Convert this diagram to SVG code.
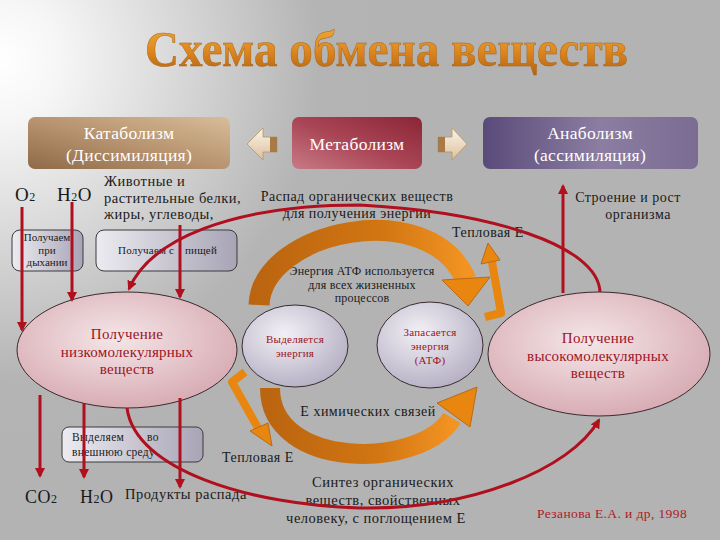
<svg xmlns="http://www.w3.org/2000/svg" width="720" height="540" viewBox="0 0 720 540">
<defs>
<radialGradient id="bg" cx="0" cy="60" r="400" gradientUnits="userSpaceOnUse">
<stop offset="0" stop-color="#ffffff"/><stop offset="0.15" stop-color="#f6f6f6"/><stop offset="0.8" stop-color="#b4b4b4"/><stop offset="1" stop-color="#b3b3b3"/>
</radialGradient>
<linearGradient id="gTitle" x1="0" y1="0" x2="0" y2="1">
<stop offset="0" stop-color="#f2b040"/><stop offset="0.5" stop-color="#e08a20"/><stop offset="1" stop-color="#b06010"/>
</linearGradient>
<linearGradient id="gKat" x1="0" y1="1" x2="1" y2="0">
<stop offset="0" stop-color="#8e6a48"/><stop offset="0.5" stop-color="#b89470"/><stop offset="1" stop-color="#d8bc98"/>
</linearGradient>
<linearGradient id="gMet" x1="0" y1="1" x2="1" y2="0">
<stop offset="0" stop-color="#c87a86"/><stop offset="0.5" stop-color="#a84454"/><stop offset="1" stop-color="#8a2636"/>
</linearGradient>
<linearGradient id="gAna" x1="0" y1="0" x2="1" y2="0">
<stop offset="0" stop-color="#5a4a7a"/><stop offset="0.55" stop-color="#8c7ea2"/><stop offset="1" stop-color="#7a6c92"/>
</linearGradient>
<linearGradient id="gBlk" x1="0" y1="0" x2="0" y2="1">
<stop offset="0" stop-color="#fbf4ea"/><stop offset="1" stop-color="#dcc09c"/>
</linearGradient>
<linearGradient id="gBox" x1="0" y1="0" x2="1" y2="0">
<stop offset="0" stop-color="#ecebf0"/><stop offset="1" stop-color="#a8a4b6"/>
</linearGradient>
<radialGradient id="gPink" cx="0.45" cy="0.4" r="0.65">
<stop offset="0" stop-color="#f4e6e8"/><stop offset="1" stop-color="#d6a8b0"/>
</radialGradient>
<radialGradient id="gLav" cx="0.4" cy="0.35" r="0.7">
<stop offset="0" stop-color="#f2f0f6"/><stop offset="1" stop-color="#b4aec2"/>
</radialGradient>
<linearGradient id="gOr" x1="0" y1="0" x2="1" y2="0">
<stop offset="0" stop-color="#bb6510"/><stop offset="0.6" stop-color="#d27612"/><stop offset="1" stop-color="#f29322"/>
</linearGradient>
<marker id="ar" viewBox="0 0 10 10" refX="8" refY="5" markerWidth="10" markerHeight="10" markerUnits="userSpaceOnUse" orient="auto">
<path d="M0,0 L10,5 L0,10 z" fill="#b00f1e"/>
</marker>
<style>
.t{font-family:"Liberation Serif","Times New Roman",serif;fill:#1a1a1a;letter-spacing:0.5px}
.w{font-family:"Liberation Serif","Times New Roman",serif;fill:#ffffff;letter-spacing:0.3px}
.r{font-family:"Liberation Serif","Times New Roman",serif;fill:#9c1424;letter-spacing:0.25px}
.ln{fill:none;stroke:#b00f1e;stroke-width:3}
.box{stroke:#3a3a3a;stroke-width:1;fill:url(#gBox)}
.ov{stroke:#3a2a30;stroke-width:1}
.or{fill:none;stroke:url(#gOr)}
.orh{fill:#e8860f;stroke:#b86a18;stroke-width:1}
</style>
</defs>
<rect width="720" height="540" fill="url(#bg)"/>
<g id="title">
<text x="145" y="66" font-family="Liberation Serif,serif" font-weight="bold" font-size="50" textLength="483" lengthAdjust="spacingAndGlyphs" fill="url(#gTitle)" stroke="#a86418" stroke-width="0.5">Схема обмена веществ</text>
</g>
<g id="katabolism">
<rect x="28" y="117" width="202" height="52" rx="7" fill="url(#gKat)"/>
<text class="w" font-size="17.5" text-anchor="middle"><tspan x="129" y="139">Катаболизм</tspan><tspan x="129" y="161">(Диссимиляция)</tspan></text>
</g>
<g id="arrow-left">
<polygon points="247,144 263,128 263,137 277,137 277,152 263,152 263,160" fill="url(#gBlk)" stroke="#b89466" stroke-width="0.8"/>
<rect x="270" y="137" width="7" height="15" fill="#a87a48"/>
</g>
<g id="metabolism">
<rect x="292" y="117" width="130" height="52" rx="7" fill="url(#gMet)"/>
<text class="w" x="357" y="150" font-size="17.5" text-anchor="middle">Метаболизм</text>
</g>
<g id="arrow-right">
<polygon points="467,144 452,128 452,137 438,137 438,152 452,152 452,160" fill="url(#gBlk)" stroke="#b89466" stroke-width="0.8"/>
<rect x="438" y="137" width="7" height="15" fill="#a87a48"/>
</g>
<g id="anabolism">
<rect x="483" y="117" width="215" height="52" rx="7" fill="url(#gAna)"/>
<text class="w" font-size="17.5" text-anchor="middle"><tspan x="590" y="139">Анаболизм</tspan><tspan x="590" y="161">(ассимиляция)</tspan></text>
</g>
<g id="inputs">
<text class="t" font-size="19" x="15" y="201">O<tspan font-size="12">2</tspan></text>
<text class="t" font-size="19" x="57" y="201">H<tspan font-size="12">2</tspan>O</text>
<text class="t" font-size="14.5"><tspan x="104" y="186">Животные и</tspan><tspan x="104" y="203">растительные белки,</tspan><tspan x="104" y="219">жиры, углеводы,</tspan></text>
</g>
<g id="box-breath">
<rect class="box" x="12" y="230" width="71" height="41" rx="8"/>
<text class="t" font-size="11" text-anchor="middle" style="letter-spacing:0"><tspan x="47" y="241">Получаем</tspan><tspan x="47" y="254">при</tspan><tspan x="47" y="266">дыхании</tspan></text>
</g>
<g id="box-food">
<rect class="box" x="96" y="230" width="141" height="41" rx="8"/>
<text class="t" font-size="11" style="letter-spacing:0.2px"><tspan x="118" y="254">Получаем с</tspan><tspan x="185" y="254">пищей</tspan></text>
</g>
<g id="label-decay">
<text class="t" font-size="14" text-anchor="middle"><tspan x="357" y="201">Распад органических веществ</tspan><tspan x="357" y="218">для получения энергии</tspan></text>
</g>
<g id="label-growth">
<text class="t" font-size="14" text-anchor="middle"><tspan x="628" y="202">Строение и рост</tspan><tspan x="638" y="219">организма</tspan></text>
</g>
<text class="t" x="452" y="237" font-size="14">Тепловая Е</text>
<text class="t" font-size="12" text-anchor="middle" style="letter-spacing:0.2px"><tspan x="362" y="275">Энергия АТФ используется</tspan><tspan x="362" y="289">для всех жизненных</tspan><tspan x="362" y="302">процессов</tspan></text>
<text class="t" x="368" y="416" font-size="14" text-anchor="middle">Е химических связей</text>
<text class="t" x="222" y="462" font-size="14">Тепловая Е</text>
<g id="oval-low">
<ellipse class="ov" cx="127" cy="350" rx="110" ry="58" fill="url(#gPink)"/>
<text class="r" font-size="15" text-anchor="middle"><tspan x="127" y="339">Получение</tspan><tspan x="127" y="357">низкомолекулярных</tspan><tspan x="127" y="374">веществ</tspan></text>
</g>
<g id="oval-release">
<ellipse class="ov" cx="295" cy="346" rx="53" ry="41" fill="url(#gLav)"/>
<text class="r" font-size="11" text-anchor="middle"><tspan x="295" y="343">Выделяется</tspan><tspan x="295" y="357">энергия</tspan></text>
</g>
<g id="oval-store">
<ellipse class="ov" cx="430" cy="345" rx="53" ry="43" fill="url(#gLav)"/>
<text class="r" font-size="11" text-anchor="middle"><tspan x="430" y="336">Запасается</tspan><tspan x="430" y="350">энергия</tspan><tspan x="430" y="364">(АТФ)</tspan></text>
</g>
<g id="oval-high">
<ellipse class="ov" cx="599" cy="354" rx="111" ry="62" fill="url(#gPink)"/>
<text class="r" font-size="15" text-anchor="middle"><tspan x="598" y="343">Получение</tspan><tspan x="598" y="361">высокомолекулярных</tspan><tspan x="598" y="378">веществ</tspan></text>
</g>
<g id="box-out">
<rect class="box" x="62" y="427" width="141" height="35" rx="7"/>
<text class="t" font-size="11.5" style="letter-spacing:0.3px"><tspan x="72" y="441">Выделяем</tspan><tspan x="147" y="441">во</tspan><tspan x="72" y="456">внешнюю среду</tspan></text>
</g>
<g id="outputs">
<text class="t" font-size="18" x="25" y="503">CO<tspan font-size="12">2</tspan></text>
<text class="t" font-size="18" x="80" y="503">H<tspan font-size="12">2</tspan>O</text>
<text class="t" font-size="14.5" x="125" y="499">Продукты распада</text>
</g>
<g id="label-synth">
<text class="t" font-size="14.5" text-anchor="middle"><tspan x="383" y="487">Синтез органических</tspan><tspan x="383" y="505">веществ, свойственных</tspan><tspan x="376" y="523">человеку, с поглощением Е</tspan></text>
</g>
<text x="537" y="518" font-size="13.5" font-family="Liberation Serif,serif" fill="#b01828" style="letter-spacing:0.4px">Резанова Е.А. и др, 1998</text>
<g id="energy-arrows">
<path class="or" d="M259,305 C262,230 430,195 466,280" stroke-width="21"/>
<polygon class="orh" points="442,280 490,277 468,306"/>
<path class="or" d="M270,388 C270,470 420,470 452,418" stroke-width="20"/>
<polygon class="orh" points="437,403 470,427 477,387"/>
<path d="M485,317 L501,313 L492,262" fill="none" stroke="#e8860f" stroke-width="8" stroke-linejoin="round"/>
<polygon class="orh" points="481,264 500,260 488,243"/>
<path d="M245,372 L232,382 L258,428" fill="none" stroke="#e8860f" stroke-width="8" stroke-linejoin="round"/>
<polygon class="orh" points="250,431 268,423 272,446"/>
</g>
<g id="connectors">
<line class="ln" x1="22" y1="207" x2="22" y2="330" marker-end="url(#ar)"/>
<line class="ln" x1="72" y1="202" x2="72" y2="300" marker-end="url(#ar)"/>
<line class="ln" x1="180" y1="225" x2="180" y2="297" marker-end="url(#ar)"/>
<line class="ln" x1="40" y1="395" x2="40" y2="476" marker-end="url(#ar)"/>
<line class="ln" x1="84" y1="403" x2="84" y2="477" marker-end="url(#ar)"/>
<line class="ln" x1="180" y1="398" x2="180" y2="487" marker-end="url(#ar)"/>
<line class="ln" x1="563" y1="293" x2="563" y2="186" marker-end="url(#ar)"/>
<path class="ln" d="M600,292 C598,245 490,212 360,205 C230,205 150,240 129,289" marker-end="url(#ar)"/>
<path class="ln" d="M127,408 C135,470 250,505 360,508 C470,510 570,470 599,420" marker-end="url(#ar)"/>
</g>
</svg>
